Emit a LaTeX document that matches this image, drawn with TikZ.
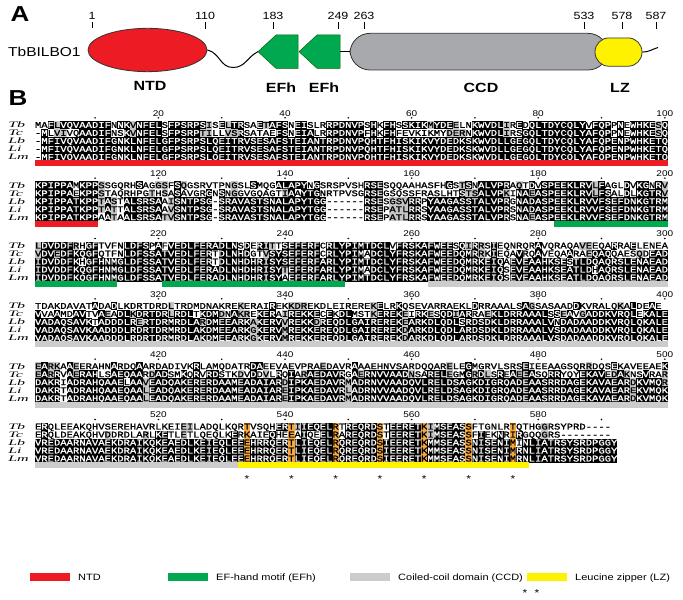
\documentclass[tikz,border=0pt]{standalone}
\usepackage{fontspec}
\setmainfont{Liberation Sans}
\newfontfamily\seqfont{Liberation Mono}[FakeBold=1.2]
\newfontfamily\spfont{Liberation Serif}
\usetikzlibrary{shapes.geometric}
\definecolor{ntdred}{HTML}{ED1C24}
\definecolor{efgreen}{HTML}{00A94F}
\definecolor{ccdgrey}{HTML}{A7A9AC}
\definecolor{lzyellow}{HTML}{FFF200}
\definecolor{shgrey}{HTML}{C4C4C4}
\definecolor{bargrey}{HTML}{CCCCCC}
\definecolor{lzorange}{HTML}{F7A83B}
\tikzset{
  seqtxt/.style={font=\seqfont\fontsize{10.5}{10.5}\selectfont, anchor=base, inner sep=0pt},
  txtnone/.style={text=black},
  txtblk/.style={text=white},
  txtgry/.style={text=black},
  txtorg/.style={text=black},
  txtorb/.style={text=black},
  numlbl/.style={font=\fontsize{10}{10}\selectfont, anchor=base, inner sep=0pt},
  splbl/.style={font=\spfont\itshape\fontsize{10}{10}\selectfont, anchor=base west, inner sep=0pt, xscale=1.6},
  numA/.style={font=\fontsize{12.5}{12.5}\selectfont, anchor=base, inner sep=0pt},
  domlbl/.style={font=\bfseries\fontsize{16}{16}\selectfont, anchor=base, inner sep=0pt},
  panel/.style={font=\bfseries\fontsize{26}{26}\selectfont, inner sep=0pt},
  legtxt/.style={font=\fontsize{11}{11}\selectfont, anchor=base west, inner sep=0pt},
  outl/.style={draw=black!80, line width=0.8pt},
  seqbar/.style={line width=6pt},
  star/.style={font=\fontsize{12}{12}\selectfont, inner sep=0pt}
}
\ExplSyntaxOn
\int_step_inline:nn {5}
  {
    \str_new:c { l__aln_s #1 _str }
    \tl_new:c { l__aln_c #1 _tl }
    \int_new:c { l__aln_g #1 _int }
  }
\tl_new:N \l__aln_x_tl
\tl_new:N \l__aln_style_tl
\tl_new:N \l__aln_colstr_tl
\int_new:N \l__aln_gx_int
\int_new:N \l__aln_id_int
\int_new:N \l__aln_sim_int
\int_new:N \l__aln_col_int
\fp_new:N \l__aln_y_fp
\fp_new:N \l__aln_l_fp
\fp_new:N \l__aln_t_fp
\clist_new:N \l__aln_or_clist
\bool_new:N \l__aln_or_bool
\cs_generate_variant:Nn \str_item:Nn { c }
\prg_generate_conditional_variant:Nnn \clist_if_in:Nn { NV } { T , F , TF }
\cs_new:Npn \__aln_group:n #1
  {
    \str_case_e:nnF {#1}
      {
        {F}{1}{Y}{1}{W}{1}
        {I}{2}{V}{2}{L}{2}{M}{2}
        {R}{3}{K}{3}
        {D}{4}{E}{4}
        {G}{5}{A}{5}
        {S}{6}{T}{6}
        {N}{7}{Q}{7}
      }
      {0}
  }
\cs_new_protected:Npn \__aln_emit:nnnnnnnn #1#2#3#4#5#6#7#8
  {
    \str_case:nn {#7}
      {
        {blk} { \fill[black] (#1,#2) rectangle (#3,#4); }
        {gry} { \fill[shgrey] (#1,#2) rectangle (#3,#4); }
        {org} { \fill[lzorange] (#1,#2) rectangle (#3,#4); }
        {orb} { \fill[lzorange] (#1,#2) rectangle (#3,#4); }
      }
    \node[seqtxt,txt#7]~at~(#5,#6)~{#8};
  }
\cs_generate_variant:Nn \__aln_emit:nnnnnnnn { eeeeeeee }
\cs_new_protected:Npn \__aln_draw:n #1
  {
    \fp_set:Nn \l__aln_l_fp { 35 + (\l__aln_col_int - 1) * 6.33 }
    \fp_set:Nn \l__aln_t_fp { \l__aln_y_fp + (#1 - 1) * 9.6 }
    \__aln_emit:eeeeeeee
      { \fp_eval:n { \l__aln_l_fp } }
      { \fp_eval:n { \l__aln_t_fp - 4.85 } }
      { \fp_eval:n { \l__aln_l_fp + 6.45 } }
      { \fp_eval:n { \l__aln_t_fp + 4.85 } }
      { \fp_eval:n { \l__aln_l_fp + 3.165 } }
      { \fp_eval:n { \l__aln_t_fp + 3.4 } }
      { \tl_use:N \l__aln_style_tl }
      { \tl_use:N \l__aln_x_tl }
  }
\cs_new_protected:Npn \__aln_cell:n #1
  {
    \tl_set_eq:Nc \l__aln_x_tl { l__aln_c #1 _tl }
    \tl_if_empty:NF \l__aln_x_tl
      {
        \int_set:Nn \l__aln_gx_int { \int_use:c { l__aln_g #1 _int } }
        \int_zero:N \l__aln_id_int
        \int_zero:N \l__aln_sim_int
        \int_step_inline:nn {5}
          {
            \str_if_eq:eeT { \tl_use:N \l__aln_x_tl } { \tl_use:c { l__aln_c ##1 _tl } }
              { \int_incr:N \l__aln_id_int }
            \int_compare:nNnT { \int_use:c { l__aln_g ##1 _int } } = { \l__aln_gx_int }
              { \int_incr:N \l__aln_sim_int }
          }
        \tl_set:Nn \l__aln_style_tl { none }
        \str_if_eq:VnF \l__aln_x_tl { - }
          {
            \int_compare:nNnTF { \l__aln_id_int } > { 2 }
              { \tl_set:Nn \l__aln_style_tl { blk } }
              {
                \int_compare:nNnT { \l__aln_gx_int } > { 0 }
                  {
                    \int_compare:nNnT { \l__aln_sim_int } > { 2 }
                      { \tl_set:Nn \l__aln_style_tl { gry } }
                  }
              }
            \bool_if:NT \l__aln_or_bool
              {
                \str_if_eq:VnTF \l__aln_style_tl { blk }
                  { \tl_set:Nn \l__aln_style_tl { orb } }
                  { \tl_set:Nn \l__aln_style_tl { org } }
              }
          }
        \__aln_draw:n {#1}
      }
  }
\cs_new_protected:Npn \__aln_col:n #1
  {
    \int_set:Nn \l__aln_col_int {#1}
    \tl_set:Nx \l__aln_colstr_tl { \int_eval:n {#1} }
    \clist_if_in:NVTF \l__aln_or_clist \l__aln_colstr_tl
      { \bool_set_true:N \l__aln_or_bool }
      { \bool_set_false:N \l__aln_or_bool }
    \int_step_inline:nn {5}
      {
        \tl_set:cx { l__aln_c ##1 _tl } { \str_item:cn { l__aln_s ##1 _str } {#1} }
        \int_set:cn { l__aln_g ##1 _int } { \__aln_group:n { \tl_use:c { l__aln_c ##1 _tl } } }
      }
    \int_step_function:nN {5} \__aln_cell:n
  }
\NewDocumentCommand \AlnBlock { m m m m m m m }
  {
    \fp_set:Nn \l__aln_y_fp {#1}
    \clist_set:Nn \l__aln_or_clist {#2}
    \str_set:cn { l__aln_s1_str } {#3}
    \str_set:cn { l__aln_s2_str } {#4}
    \str_set:cn { l__aln_s3_str } {#5}
    \str_set:cn { l__aln_s4_str } {#6}
    \str_set:cn { l__aln_s5_str } {#7}
    \int_step_function:nN {100} \__aln_col:n
  }
\cs_new_protected:Npn \__aln_dot:nn #1#2 { \fill~(#1,#2)~circle[radius=0.95]; }
\cs_generate_variant:Nn \__aln_dot:nn { ee }
\cs_new_protected:Npn \__aln_num:nnn #1#2#3 { \node[numlbl]~at~(#1,#2)~{#3}; }
\cs_generate_variant:Nn \__aln_num:nnn { eee }
\NewDocumentCommand \AlnRuler { m m m }
  {
    \int_step_inline:nn {#3}
      {
        \int_compare:nNnT { \int_mod:nn { #2 + ##1 - 1 } { 10 } } = { 0 }
          { \__aln_dot:ee { \fp_eval:n { 35 + (##1 - 0.5) * 6.33 } } { \fp_eval:n { #1 + 5.4 } } }
        \int_compare:nNnT { \int_mod:nn { #2 + ##1 - 1 } { 20 } } = { 0 }
          {
            \__aln_num:eee { \fp_eval:n { 35 + (##1 - 0.5) * 6.33 } } { \fp_eval:n { #1 + 3.3 } }
              { \int_eval:n { #2 + ##1 - 1 } }
          }
      }
  }
\ExplSyntaxOff
\begin{document}
\begin{tikzpicture}[x=1pt,y=-1pt]
\begin{scope}[yscale=0.83333, transform shape]
\useasboundingbox (0,0) rectangle (683,720);
% ---------------- Panel A ----------------
\node[panel] (pA) at (20,17) {A};
\node[font=\fontsize{15.5}{15.5}\selectfont, anchor=west, inner sep=0pt] (name) at (8,62) {TbBILBO1};
\foreach \xx/\tt in {92/1,205/110,273/183,338/249,364/263,584/533,622/578,656/587}{
  \node[numA] (t\tt) at (\xx,23) {\tt};
  \draw[line width=0.7pt] (t\tt.south) ++(0,3) -- ++(0,8);
}
\coordinate (dip) at (233,81);
\coordinate (tail) at (658,57);
\node[ellipse, outl, fill=ntdred, minimum width=119, minimum height=52, inner sep=0] (ntd) at (147.5,60) {};
\draw[line width=1pt] (ntd.east) to[out=-15,in=180] (dip) to[out=0,in=210] (258,62);
\fill[efgreen, draw=green!40!black, line width=0.5pt] (258,62) -- (276,42) -- (298,42) -- (298,82) -- (276,82) -- cycle;
\fill[efgreen, draw=green!40!black, line width=0.5pt] (299,62) -- (317,42) -- (340,42) -- (340,82) -- (317,82) -- cycle;
\coordinate (efr) at (340,62);
\node[rectangle, outl, fill=ccdgrey, rounded corners=20pt, minimum width=258, minimum height=44, inner sep=0] (ccd) at (479,62) {};
\draw[line width=1pt] (efr) -- (ccd.west);
\node[rectangle, outl, fill=lzyellow, rounded corners=14pt, minimum width=47, minimum height=34, inner sep=0] (lz) at (618.5,62.5) {};
\draw[line width=1pt] (lz.east) to[out=0,in=200] (tail);
\node[domlbl] (lNTD) at (150,109) {NTD};
\node[domlbl] (lEF1) at (281,111) {EFh};
\node[domlbl] (lEF2) at (324,111) {EFh};
\node[domlbl] (lCCD) at (481,111) {CCD};
\node[domlbl] (lLZ) at (620,111) {LZ};
% ---------------- Panel B ----------------
\node[panel] (pB) at (18,118) {B};
\foreach \yy in {136,208.4,280.8,353.2,425.6,498}{
  \foreach \sp [count=\r] in {Tb,Tc,Lb,Li,Lm}{
    \node[splbl] at (8,{\yy+14+(\r-1)*9.6+3.6}) {\sp};
  }
}
\AlnRuler{136}{1}{100}
\AlnRuler{208.4}{101}{100}
\AlnRuler{280.8}{201}{100}
\AlnRuler{353.2}{301}{100}
\AlnRuler{425.6}{401}{100}
\AlnRuler{498}{501}{90}
% block 1
\AlnBlock{150}{}
{MAFLVQVAADIFNNKVNFELSFPSRPSISELTRSAETAFSNEISLRRPDNVPSHKFHSSKIKMYDEELNKWVDLIREDQLTDYCQLYVFQPPNEWHKESQ}
{-MLVIVQAADIFNSKVNFELSFPSRPTILLVSRSATAEFSNEIALRRPDNVPFHKFHFEVKIKMYDERNKWVDLIRSGQLTDYCQLYAFQPPNEWHKESQ}
{-MFIVQVAADIFGNKLNFELGFPSRPSLQEITRVSESAFSTEIANTRPDNVPQHTFHISKIKVYDEDKSKWVDLLGEGQLTDYCQLYAFQPENPWHKETQ}
{-MFIVQVAADIFGNKLNFELGFPSRPSLQEITRVSESAFSTEIANTRPDNVPQHTFHISKIKVYDEDKSKWVDLLGEGQLTDYCQLYAFQPENPWHKETQ}
{-MFIVQVAADIFGNKLNFELGFPSRPSLQEITRVSESAFSTEIANTRPDNVPQHTFHISKIKVYDEDKSKWVDLLGEGQLTDYCQLYAFQPENPWHKETQ}
% block 2
\AlnBlock{222.4}{}
{KPIPPAMKPPSSGQRHSAGGSFSQGSRVTPNGSLSMQGALAPYNGSRSPVSHRSESQQAAHASFHGSTSNALVPRAQTDVSPEEKLRVLFAGLDVKGNRV}
{KPIPPAEKPPSTAQRHPGTHSASAVGRGNSNGGVGQAGTIAAYTGNRTPVSGRSEGSQSSFRASLHTSTSALVPKINAEASPEEKLRVLFSALDLKGTRV}
{KPIPPATKPPTASTALSRSAAISNTPSG-SRAVASTSNALAPYTGG------RSESGSVRRPYAAGASSTALVPRGNADASPEEKLRVVFSEFDNKGTRM}
{KPIPPATKPPTATTALSRSAAVSNTPSG-SRAVASTSNALAPYTGG------RSEPATLRRSYAAGASSTALVPRSNADASPEEKLRVVFSEFDNKGTRM}
{KPIPPATKPPAATAALSRSATVSNTPSG-SRAVASTSNALAPYTGG------RSEPATLRRSYAAGASSTALVPRSNAEASPEEKLRVVFSEFDNKGTRM}
% block 3
\AlnBlock{294.8}{}
{LDVDDFRHGFTVFNLDFSPAFVEDLFERADLNSDERITTSEFERFCRLYPIMTDCLVFRSKAFWEESQIRRSIEQNRQRAVQRAQAVEEQARRAELENEA}
{VDVEDFKQGFQTFNLDFSSATVEDLFERTDLNHDGTVSYSEFERFCRLYPIMADCLYFRSKAFWEEDQMRRKIEQAVRQAVEQAARAEQAQQAESQDEAD}
{IDVDDFKHGFHNMGLDFSSATVEDLFERTDLNHDHRISYSEFERFARLYPIMTDCLYFRSKAFWEEDQMRKEIQAEVEAAHKSESTLDQAQRSLENAEAD}
{IDVDDFKQGFHNMGLDFSSATVEDLFERADLNHDHRISYTEFERFARLYPIMADCLYFRSKAFWEEDQMRKEIQSEVEAAHKSEATLDHAQRSLENAEAD}
{IDVDDFKQGFHNMGLDFSSATVEDLFERADLNHDHRISYAEFERFARLYPIMTDCLYFRSKAFWEEDQMRKEIQSEVEAAHKSEATLDQAQRSLENAEAD}
% block 4
\AlnBlock{367.2}{}
{TDAKDAVATADADLKDRTDRDLTRDMDNAKREKERAIREKKDREKDLEIREREKELRKQSEVARRAEKLDRRAAALSAGSASAADDKVRALQKALDEAE}
{VVAAMDAVTVAEADLKDRTDRLRDLTKDMDNAKREKERAIREKKECEKDLMSTKEREKEIRKESQDIARRAEKLDRRAAALSSEAVGADDKVRQLEKALE}
{VADAQSAVKTADDDLRERTDRMRDLARDMEEARKAKERVVREKKDREQDLGAIREREKEARKDLQDLSRDSDKLDRRAAALVNDADAADDKVRQLQKALE}
{VADAQSAVKAADDDLRDRTDRMRDLAKDMEEARKGKERVMREKKEREQDLGAIREREKDARKDLQDLARDSDKLDRRAAALVSDADAADDKVRQLQKALE}
{VADAQSAVKAADDDLRDRTDRMRDLAKDMEEARKGKERVMREKKEREQDLGAIREREKDARKDLQDLARDSDKLDRRAAALVSDADAADDKVRQLQKALE}
% block 5
\AlnBlock{439.6}{}
{EARKAAEERAHNARDQAARDADIVKRLAMQDATRDAEEVAEVPRAEDAVRAAAEHNVSARDQQARELEGMGRVLSRSEIEEAAGSQRRDQSEKAVEEAEKAG}
{EARRVAERAHLSAEQAARDADSMKQRVRDSTKDVDDVLRQIARAEDAVRGAERNVVAADNSARELEGMGRDLSREAEEASQRRYQYEKAVEDAKNSVRAR}
{DAKRIADRAHQAAELAAVEADQAKERERDAAMEADAIARDIPKAEDAVRMADRNVVAADQVLRELDSAGKDIGRQADEAASRRDAGEKAVAEARDKVMQR}
{DAKRTADRAHQAAEQAALEADQAKERERDAAMEADAIAREIPKAEDAVRLADRNVVAADQVLRELDSAGKDIGRQADEAASRRDAGEKAVAEAREKVMQK}
{DAKRTADRAHQAAEQAALEADQAKERERDAAMEADAIAREIPKAEDAVRMADRNVVAADQVLRELDSAGKDIGRQADEAASRRDAGEKAVAEARDKVMQK}
% block 6
\AlnBlock{512}{34,41,48,55,62,69,76}
{ERQLEEAKQHVSEREHAVRLKEIEILADQLKQRTVSQHERTIIEQELRTREQRDSTEERETKIMSEASSFTGNLRTQTHGGRSYPRD----}
{ERQLDEAKQHVDDRDLARLKETLETLQEQLKERKAIEQHEEAIQEELRAREQRDSTEERETKIMSEASSFIEKNRIRGQQGRS--------}
{VREDAARNAVAEKDRAIKQKEAEDLKEIEQLEEEHRRQERTLIEQELRQREQRDSIEERETKMMSEASSNISENIMINLIATRSYSRDPGGY}
{VREDAARNAVAEKDRAIKQKEAEDLKEIEQLEEEHRRQERTLIEQELRQREQRDSIEERETKMMSEASSNISENIMRNLIATRSYSRDPGGY}
{VREDAARNAVAEKDRAIKQKEAEDLKEIEQLEEEHRRQERTLIEQELRQREQRDSIEERETKMMSEASSNISENIMRNLIATRSYSRDPGGY}
% bars
\draw[seqbar, ntdred] (35,196) -- (668,196);
\draw[seqbar, ntdred] (35,268.4) -- (98.3,268.4);
\draw[seqbar, efgreen] (554.4,268.4) -- (668,268.4);
\draw[seqbar, efgreen] (35,340.8) -- (117.3,340.8);
\draw[seqbar, efgreen] (161.6,340.8) -- (345.2,340.8);
\draw[seqbar, bargrey] (427.5,340.8) -- (668,340.8);
\draw[seqbar, bargrey] (35,413.2) -- (668,413.2);
\draw[seqbar, bargrey] (35,485.6) -- (668,485.6);
\draw[seqbar, bargrey] (35,558) -- (237.6,558);
\draw[seqbar, lzyellow] (237.6,558) -- (528.7,558);
\foreach \c in {34,41,48,55,62,69,76}{
  \node[star] at ({35+(\c-0.5)*6.33},575) {*};
}
% legend
\fill[ntdred] (30,688) rectangle (70,697);
\node[legtxt] at (78,697) {NTD};
\fill[efgreen] (168,688) rectangle (208,697);
\node[legtxt] at (216,697) {EF-hand motif (EFh)};
\fill[bargrey] (350,688) rectangle (390,697);
\node[legtxt] at (398,697) {Coiled-coil domain (CCD)};
\fill[lzyellow] (527,688) rectangle (567,697);
\node[legtxt] at (575,697) {Leucine zipper (LZ)};
\node[star] at (525,712) {*};
\node[star] at (537,712) {*};
\end{scope}
\end{tikzpicture}
\end{document}
